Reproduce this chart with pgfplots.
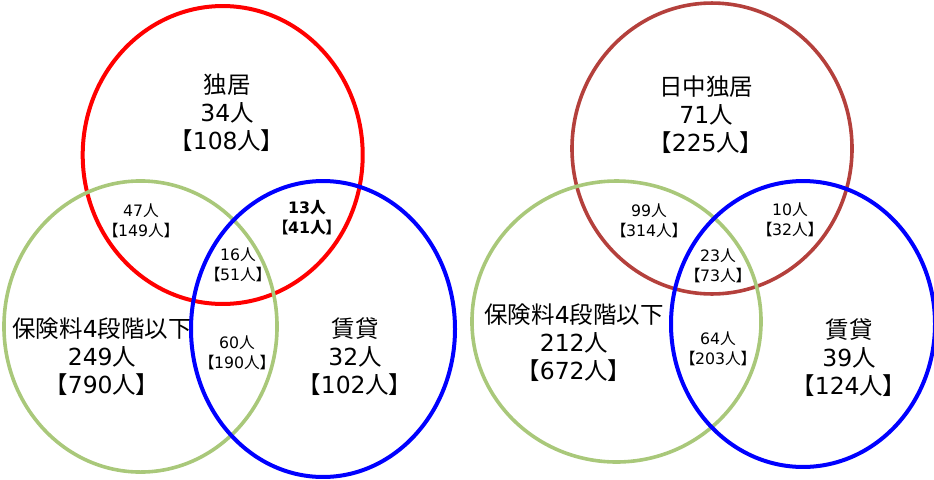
\documentclass[border=0pt]{standalone}
\usepackage{pgfplots}
\pgfplotsset{compat=1.18}
\usepackage{fontspec}
\setmainfont{DejaVu Sans}
\newfontfamily\cjk{Noto Sans CJK JP}
\newfontfamily\cjkp{Noto Sans CJK JP}[RawFeature=+palt]
\newcommand{\hito}{{\cjk 人}}
\newcommand{\lb}{{\cjkp 【}}
\newcommand{\rb}{{\cjkp 】}}
\definecolor{vgreen}{RGB}{169,200,122}
\definecolor{vdred}{RGB}{180,64,60}
\tikzset{
  big/.style={font=\fontsize{17.6}{21}\selectfont, align=center, inner sep=0pt},
  small/.style={font=\fontsize{11.8}{15}\selectfont, align=center, inner sep=0pt},
}
% ring: radius (pt), y stretch, line width
\pgfplotsset{ring/.style n args={3}{only marks, mark=o, mark size=#1,
  mark options={yscale=#2, line width=#3}}}

\begin{document}
\begin{tikzpicture}
\path[use as bounding box] (0,0) rectangle (700.5pt,359.25pt);
\begin{axis}[
  at={(0,0)}, anchor=south west,
  width=700.5pt, height=359.25pt, scale only axis,
  xmin=0, xmax=934, ymin=0, ymax=479, y dir=reverse,
  hide axis, clip=false,
]
% left diagram
\addplot[red, ring={105pt}{1.064}{3pt}] coordinates {(222.7,155)};
\addplot[vgreen, ring={102.4pt}{1.066}{2.7pt}] coordinates {(140.5,326.5)};
\addplot[blue, ring={99pt}{1.121}{3pt}] coordinates {(323,329)};
% right diagram
\addplot[vdred, ring={105pt}{1.039}{2.7pt}] coordinates {(712,148.5)};
\addplot[vgreen, ring={108.4pt}{0.972}{2.7pt}] coordinates {(616.5,321.5)};
\addplot[blue, ring={99pt}{1.083}{3pt}] coordinates {(803,324)};

\node[big] at (axis cs:227,113) {{\cjk 独居}\\34\hito\\\lb108\hito\rb};
\node[big] at (axis cs:102,357) {{\cjk 保険料}4{\cjk 段階以下}\\249\hito\\\lb790\hito\rb};
\node[big] at (axis cs:355,357) {{\cjk 賃貸}\\32\hito\\\lb102\hito\rb};
\node[small] at (axis cs:141,221) {47\hito\\\lb149\hito\rb};
\node[small, font=\fontsize{11.8}{15}\selectfont\bfseries] at (axis cs:307,218) {13{\cjk\bfseries 人}\\{\cjkp\bfseries 【}41{\cjk\bfseries 人}{\cjkp\bfseries 】}};
\node[small] at (axis cs:238,265) {16\hito\\\lb51\hito\rb};
\node[small] at (axis cs:237,353) {60\hito\\\lb190\hito\rb};

\node[big] at (axis cs:706,115) {{\cjk 日中独居}\\71\hito\\\lb225\hito\rb};
\node[big] at (axis cs:574,343) {{\cjk 保険料}4{\cjk 段階以下}\\212\hito\\\lb672\hito\rb};
\node[big] at (axis cs:849,358) {{\cjk 賃貸}\\39\hito\\\lb124\hito\rb};
\node[small] at (axis cs:649,221) {99\hito\\\lb314\hito\rb};
\node[small] at (axis cs:790,220) {10\hito\\\lb32\hito\rb};
\node[small] at (axis cs:718,266) {23\hito\\\lb73\hito\rb};
\node[small] at (axis cs:718,349) {64\hito\\\lb203\hito\rb};
\end{axis}
\end{tikzpicture}
\end{document}
